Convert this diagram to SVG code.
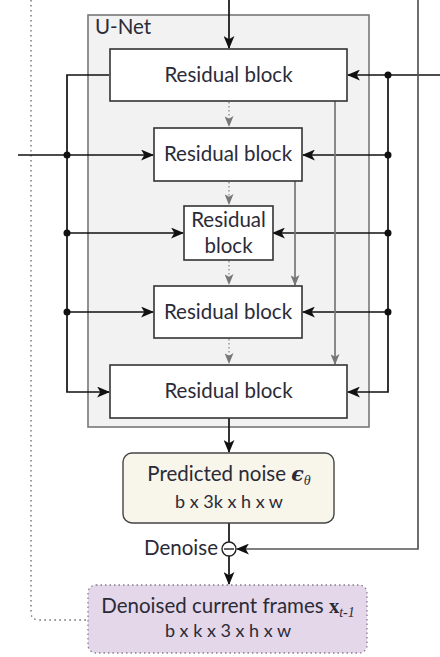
<svg xmlns="http://www.w3.org/2000/svg" width="440" height="657" viewBox="0 0 440 657">
<defs>
<style>
text{font-family:Lato,"Noto Sans","DejaVu Sans",sans-serif;fill:#2b2b38}
.blk{fill:#fff;stroke:#333;stroke-width:1.6}
.t18{font-size:20.5px}
.t16{font-size:18px}
.ln{fill:none;stroke:#111;stroke-width:1.7}
.gl{fill:none;stroke:#777;stroke-width:1.7}
.dl{fill:none;stroke:#888;stroke-width:1.3;stroke-dasharray:1.5 2.5}
.dot{fill:#111}
</style>
<marker id="ah" viewBox="0 0 12 10" refX="11" refY="5" markerWidth="13" markerHeight="11" markerUnits="userSpaceOnUse" orient="auto">
<path d="M0,0 L12,5 L0,10 L3,5 z" fill="#111"/>
</marker>
<marker id="ag" viewBox="0 0 12 10" refX="11" refY="5" markerWidth="11" markerHeight="9" markerUnits="userSpaceOnUse" orient="auto">
<path d="M0,0 L12,5 L0,10 L3,5 z" fill="#777"/>
</marker>
</defs>

<g id="unet">
<rect x="88" y="15" width="281" height="412" fill="#f2f2f2" stroke="#777" stroke-width="1.6"/>
<text x="95" y="34" style="font-size:20.5px">U-Net</text>
</g>

<g id="connectors">
<path d="M31,0 V612 Q31,620 39,620 H88" fill="none" stroke="#666" stroke-width="1.3" stroke-dasharray="1.5 3.5"/>
<path class="ln" d="M229,0 V48" marker-end="url(#ah)"/>
<path class="ln" d="M18,155 H153" marker-end="url(#ah)"/>
<path class="ln" d="M109,75 H67 V392 H109" marker-end="url(#ah)"/>
<path class="ln" d="M67,233 H183" marker-end="url(#ah)"/>
<path class="ln" d="M67,312 H153" marker-end="url(#ah)"/>
<circle class="dot" cx="67" cy="155" r="3.5"/>
<circle class="dot" cx="67" cy="233" r="3.5"/>
<circle class="dot" cx="67" cy="312" r="3.5"/>
<path class="ln" d="M440,75 H348" marker-end="url(#ah)"/>
<path class="ln" d="M388,75 V392 H348" marker-end="url(#ah)"/>
<path class="ln" d="M388,155 H303" marker-end="url(#ah)"/>
<path class="ln" d="M388,233 H273" marker-end="url(#ah)"/>
<path class="ln" d="M388,312 H303" marker-end="url(#ah)"/>
<circle class="dot" cx="388" cy="75" r="3.5"/>
<circle class="dot" cx="388" cy="155" r="3.5"/>
<circle class="dot" cx="388" cy="233" r="3.5"/>
<circle class="dot" cx="388" cy="312" r="3.5"/>
<path class="gl" d="M335,101 V364" marker-end="url(#ag)"/>
<path class="gl" d="M295,181 V285" marker-end="url(#ag)"/>
<path class="dl" d="M229,102 V126" marker-end="url(#ag)"/>
<path class="dl" d="M229,182 V204" marker-end="url(#ag)"/>
<path class="dl" d="M229,261 V284" marker-end="url(#ag)"/>
<path class="dl" d="M229,339 V363" marker-end="url(#ag)"/>
<path class="ln" d="M229,418 V452" marker-end="url(#ah)"/>
<path class="ln" d="M229,523 V542"/>
<path class="gl" style="stroke:#555" d="M418,0 V549 H237" marker-end="url(#ah)"/>
<path class="ln" d="M229,556 V584" marker-end="url(#ah)"/>
</g>

<g id="block1">
<rect class="blk" x="110" y="49" width="237" height="52"/>
<text class="t18" x="228.5" y="82" text-anchor="middle">Residual block</text>
</g>
<g id="block2">
<rect class="blk" x="154" y="128" width="148" height="53"/>
<text class="t18" x="228" y="161" text-anchor="middle">Residual block</text>
</g>
<g id="block3">
<rect class="blk" x="184" y="206" width="89" height="54"/>
<text class="t18" x="228.5" y="227" text-anchor="middle">Residual</text>
<text class="t18" x="228.5" y="253" text-anchor="middle">block</text>
</g>
<g id="block4">
<rect class="blk" x="154" y="286" width="148" height="52"/>
<text class="t18" x="228" y="319" text-anchor="middle">Residual block</text>
</g>
<g id="block5">
<rect class="blk" x="110" y="365" width="237" height="53"/>
<text class="t18" x="228.5" y="398" text-anchor="middle">Residual block</text>
</g>

<g id="noise">
<rect x="123" y="453" width="211" height="70" rx="9" fill="#f8f5ea" stroke="#444" stroke-width="1.4"/>
<text class="t18" x="229" y="481" text-anchor="middle">Predicted noise <tspan font-weight="bold" font-style="italic" font-family="'DejaVu Serif',serif">ϵ</tspan><tspan font-style="italic" font-size="14" dy="4" font-family="'Liberation Serif',serif">θ</tspan></text>
<text class="t16" x="229" y="508" text-anchor="middle">b x 3k x h x w</text>
</g>

<g id="denoise">
<circle cx="229" cy="549" r="7" fill="#fff" stroke="#222" stroke-width="1.4"/>
<path d="M224,549 H234" stroke="#222" stroke-width="1.4"/>
<text x="218" y="555" text-anchor="end" style="font-size:20.5px">Denoise</text>
</g>

<g id="output">
<rect x="88" y="585" width="279" height="68" rx="8" fill="#e4d7e9" stroke="#8a7a92" stroke-width="1.3" stroke-dasharray="1.5 3"/>
<text class="t18" x="228" y="613" text-anchor="middle">Denoised current frames <tspan font-weight="bold" font-family="'Liberation Serif',serif">x</tspan><tspan font-style="italic" font-size="14" dy="4" font-family="'Liberation Serif',serif">t-1</tspan></text>
<text class="t16" x="228" y="637" text-anchor="middle">b x k x 3 x h x w</text>
</g>
</svg>
